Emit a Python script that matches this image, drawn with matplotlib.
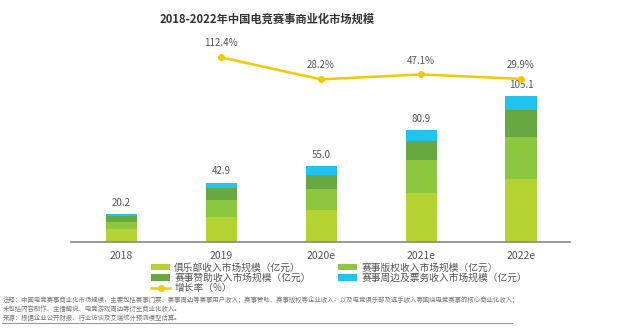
import matplotlib.pyplot as plt
import numpy as np

plt.rcParams['font.family'] = ['Noto Sans CJK SC', 'DejaVu Sans']

# 市场规模（亿元）及增长率
years = ['2018', '2019', '2020e', '2021e', '2022e']
club = [9.2, 18.1, 23.2, 35.2, 45.4]
rights = [5.4, 12.5, 15.4, 24.2, 30.6]
sponsor = [3.9, 8.6, 9.6, 13.6, 19.6]
peripheral = [1.7, 3.7, 6.8, 7.9, 9.5]
totals = [20.2, 42.9, 55.0, 80.9, 105.1]
growth_years = ['2019', '2020e', '2021e', '2022e']
growth = [112.4, 28.2, 47.1, 29.9]

series_names = ['俱乐部收入市场规模（亿元）', '赛事版权收入市场规模（亿元）',
                '赛事赞助收入市场规模（亿元）', '赛事周边及票务收入市场规模（亿元）']
colors = ['#B5D333', '#8DC63F', '#67A843', '#22C3EE']
line_color = '#F6C800'
label_color = '#555555'

fig = plt.figure(figsize=(6.4, 3.28), dpi=100)
ax = fig.add_axes([71 / 640, 86 / 328, 499 / 640, 202 / 328])

x = np.arange(len(years))
bottom = np.zeros(len(years))
bars = []
for vals, c in zip([club, rights, sponsor, peripheral], colors):
    b = ax.bar(x, vals, width=0.31, bottom=bottom, color=c, linewidth=0)
    bars.append(b)
    bottom += np.array(vals)

for xi, t in zip(x, totals):
    ax.annotate(f'{t:.1f}', (xi, t), xytext=(0, 8), textcoords='offset points',
                ha='center', va='center', fontsize=7, color=label_color)

ax.set_xlim(-0.5, 4.49)
ax.set_ylim(0, 145.8)
ax.set_xticks(x)
ax.set_xticklabels(years, fontsize=7.5, color=label_color)
ax.tick_params(axis='x', length=0, pad=6.5)
ax.set_yticks([])
for s in ['top', 'right', 'left']:
    ax.spines[s].set_visible(False)
ax.spines['bottom'].set_color('#888888')
ax.spines['bottom'].set_linewidth(1.2)

# 增长率折线（次坐标轴）
ax2 = ax.twinx()
gx = [years.index(y) for y in growth_years]
line, = ax2.plot(gx, growth, color=line_color, linewidth=1.8, marker='o', markersize=4)
for xi, g in zip(gx, growth):
    ax2.annotate(f'{g:.1f}%', (xi, g), xytext=(0, 10), textcoords='offset points',
                 ha='center', va='center', fontsize=7, color=label_color)
ax2.set_ylim(-595, 179)
ax2.set_yticks([])
for s in ['top', 'right', 'left', 'bottom']:
    ax2.spines[s].set_visible(False)

fig.text(267 / 640, 1 - 19 / 328, '2018-2022年中国电竞赛事商业化市场规模',
         ha='center', va='center', fontsize=8.1, fontweight='bold', color='#333333')

handles = [bars[0], bars[2], line, bars[1], bars[3]]
labels = [series_names[0], series_names[2], '增长率（%）', series_names[1], series_names[3]]
fig.legend(handles, labels, loc='upper left', bbox_to_anchor=(144 / 640, 1 - 256 / 328),
           ncol=2, frameon=False, fontsize=7, labelcolor=label_color,
           handlelength=2.0, handleheight=0.6, handletextpad=0.4,
           labelspacing=0.02, columnspacing=2.8, borderpad=0.2)

notes = ['注释：中国电竞赛事商业化市场规模，主要包括赛事门票、赛事周边等赛事用户收入；赛事赞助、赛事版权等企业收入，以及电竞俱乐部及选手收入等围绕电竞赛事的核心商业化收入；',
         '未包括内容制作、主播解说、电竞游戏周边等衍生商业化收入。',
         '来源：根据企业公开财报、行业访谈及艾瑞统计预测模型估算。']
for i, n in enumerate(notes):
    fig.text(3 / 640, 1 - (300 + 9 * i) / 328, n, ha='left', va='center',
             fontsize=4.6, color='#777777')
fig.add_artist(plt.Line2D([2 / 640, 512 / 640], [1 - 323 / 328, 1 - 323 / 328],
                          color='#999999', linewidth=0.8))

fig.savefig('out.png', dpi=100, facecolor='white')
